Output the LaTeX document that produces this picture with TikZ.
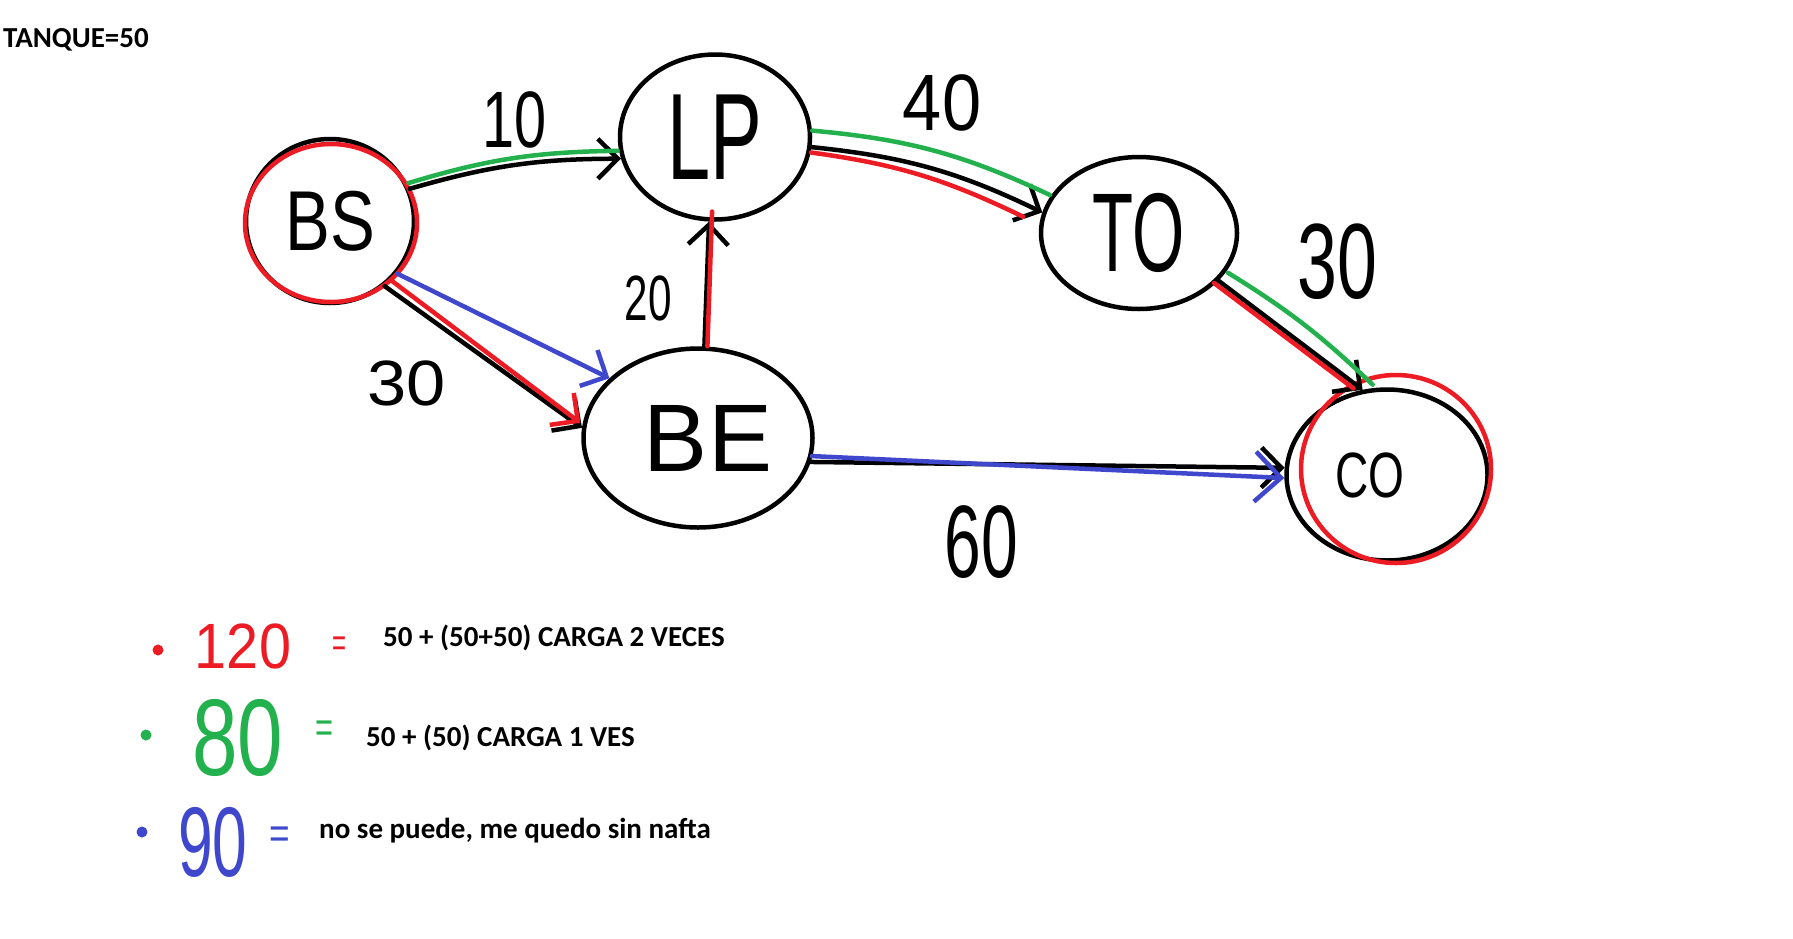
\documentclass[tikz,border=0pt]{standalone}
\usepackage{fontspec}
\setmainfont{Carlito}
\newfontfamily\hand{Liberation Sans}
\usetikzlibrary{shapes.geometric,arrows.meta}
\definecolor{pred}{RGB}{237,28,36}
\definecolor{pgreen}{RGB}{34,177,76}
\definecolor{pblue}{RGB}{63,72,204}
\newcommand{\hw}[3]{{\hand\fontsize{#1}{#1}\selectfont\scalebox{#2}[1]{#3}}}
\begin{document}
\begin{tikzpicture}[x=1pt,y=-1pt,
  city/.style={draw=black,line width=4.5pt,ellipse,inner sep=0pt},
  edge/.style={line width=4.5pt,line cap=round,line join=round},
  tip/.style={-{Straight Barb[length=20pt,width=40pt]}},
  bigtip/.style={-{Straight Barb[length=26pt,width=50pt]}},
  lbl/.style={inner sep=0pt},
  legend/.style={inner sep=0pt,anchor=base west,font=\bfseries\fontsize{29}{34}\selectfont}]
\useasboundingbox[fill=white] (0,0) rectangle (1793,938);

% title
\node[legend] (title) at (3,47) {TANQUE=50};

% cities
\node[city,minimum width=168pt,minimum height=164pt] (bs) at (330,221) {\hw{85}{0.79}{BS}};
\node[city,minimum width=190pt,minimum height=165pt] (lp) at (715,137) {\hw{123}{0.63}{LP}};
\node[city,minimum width=196pt,minimum height=152pt] (to) at (1139,233) {\hw{112}{0.6}{TO}};
\node[city,minimum width=229pt,minimum height=179pt] (be) at (698,438) {\kern20pt\hw{96}{1.0}{BE}};
\node[city,minimum width=201pt,minimum height=171pt] (co) at (1387,475) {\hw{64}{0.72}{CO}\kern34pt};

% red circles
\draw[pred,line width=4.5pt] (331,223) ellipse [x radius=86pt, y radius=79pt];
\draw[pred,line width=4.5pt] (1396,469) ellipse [x radius=95pt, y radius=94pt];

% BS -> LP
\draw[edge,tip] (bs.22) to[bend left=8] (lp.193);
\draw[edge,pgreen] ([yshift=3]bs.24) to[bend left=8] ([xshift=-2,yshift=3]lp.190);

% LP -> TO
\draw[edge,tip] (lp.-6) to[bend left=10] (to.168);
\draw[edge,pgreen] ([yshift=3]lp.2) to[bend left=10] ([yshift=2]to.158);
\draw[edge,pred] ([yshift=-2]lp.-8) to[bend left=9] ([xshift=-18,yshift=-1]to.170);

% BE -> LP
\draw[edge,tip] (be.86) -- (lp.-94);
\draw[edge,pred] ([xshift=3]be.86) -- ([xshift=3,yshift=10]lp.-94);

% BS -> BE
\draw[edge,tip] (bs.-50) -- (be.175);
\draw[edge,pred,tip] ([xshift=3,yshift=3]bs.-47) -- ([xshift=-2,yshift=3]be.174);
\draw[edge,pblue,tip] (bs.-38) -- (be.146);

% TO -> CO
\draw[edge,tip] (to.-31) -- (co.106);
\draw[edge,pred] ([xshift=-2]to.-33) -- ([xshift=-6,yshift=2]co.108);
\draw[edge,pgreen] ([xshift=5,yshift=3]to.-27) to[bend left=6] ([xshift=4,yshift=4]co.102);

% BE -> CO
\draw[edge,tip] (be.-12) -- (co.176);
\draw[edge,pblue,bigtip] ([yshift=2]be.-10) -- ([yshift=-3]co.180);

% edge labels
\node[lbl] (l10) at (515,120) {\hw{80}{0.72}{10}};
\node[lbl] (l40) at (942,103) {\hw{80}{0.88}{40}};
\node[lbl] (l20) at (648,298) {\hw{64}{0.66}{20}};
\node[lbl] (l30a) at (407,383) {\hw{64}{1.1}{30}};
\node[lbl] (l30b) at (1337,262) {\hw{107}{0.67}{30}};
\node[lbl] (l60) at (981,542) {\hw{103}{0.64}{60}};

% legend
\fill[pred] (158,650) circle[radius=5.5pt];
\node[lbl,text=pred] (n120) at (243,646) {\hw{64}{0.9}{120}};
\node[lbl,text=pred] (e1) at (340,647) {\hw{40}{0.6}{=}};
\node[legend] (t1) at (383,646) {50 + (50+50) CARGA 2 VECES};

\fill[pgreen] (146,735) circle[radius=5.5pt];
\node[lbl,text=pgreen] (n80) at (238,738) {\hw{109}{0.75}{80}};
\node[lbl,text=pgreen] (e2) at (324,732) {\hw{44}{0.7}{=}};
\node[legend] (t2) at (366,746) {50 + (50) CARGA 1 VES};

\fill[pblue] (142,832) circle[radius=5.5pt];
\node[lbl,text=pblue] (n90) at (213,842) {\hw{99}{0.63}{90}};
\node[lbl,text=pblue] (e3) at (280,838) {\hw{44}{0.8}{=}};
\node[legend] (t3) at (319,838) {no se puede, me quedo sin nafta};
\end{tikzpicture}
\end{document}
